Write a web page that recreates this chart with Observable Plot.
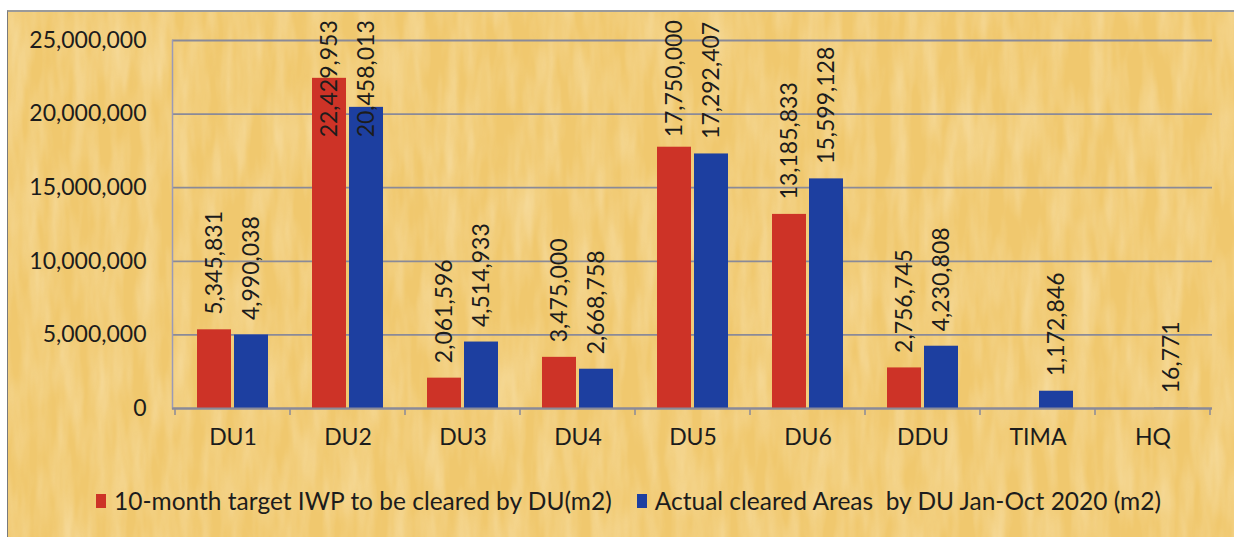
<!DOCTYPE html>
<html>
<head>
<meta charset="utf-8">
<script src="https://cdn.jsdelivr.net/npm/d3@7"></script>
<script src="https://cdn.jsdelivr.net/npm/@observablehq/plot@0.6"></script>
<style>
  html, body { margin: 0; padding: 0; background: #ffffff; }
  body { width: 1234px; height: 537px; overflow: hidden; position: relative; font-family: Lato, "Open Sans", sans-serif; }
  #wrap {
    position: absolute; left: 7px; top: 10px; width: 1227px; height: 527px;
    box-sizing: border-box;
    background: #F0C86E;
    border-top: 2px solid #9a9a9a;
    border-left: 1px solid #7a7a7a;
    overflow: hidden;
  }
  #tex { position: absolute; left: 0; top: 0; }
  #chart { position: absolute; left: 0; top: 0; }
  #chart svg { display: block; background: transparent; }
  #legend {
    position: absolute; left: 88px; top: 474px;
    display: flex; align-items: center;
    font-size: 24.5px; color: #1c1c1c; white-space: pre;
  }
  .sw { display: inline-block; width: 10px; height: 14px; margin-right: 8px; }
  .item { display: flex; align-items: center; margin-right: 25px; }
</style>
</head>
<body>
<div id="wrap">
  <svg id="tex" width="1227" height="527">
    <filter id="paper" x="0" y="0" width="100%" height="100%">
      <feTurbulence type="fractalNoise" baseFrequency="0.06 0.012" numOctaves="3" seed="4" result="n"/>
      <feColorMatrix type="matrix" values="0 0 0 0 1  0 0 0 0 0.93  0 0 0 0 0.75  0 0 0 -1.1 0.75"/>
    </filter>
    <rect width="1227" height="527" filter="url(#paper)" opacity="0.55"></rect>
  </svg>
  <div id="chart"></div>
  <div id="legend"></div>
</div>
<script>
// ---- data ----
const categories = ["DU1", "DU2", "DU3", "DU4", "DU5", "DU6", "DDU", "TIMA", "HQ"];
const targetValues = [5345831, 22429953, 2061596, 3475000, 17750000, 13185833, 2756745, null, null];
const actualValues = [4990038, 20458013, 4514933, 2668758, 17292407, 15599128, 4230808, 1172846, 16771];
const seriesNames = ["10-month target IWP to be cleared by DU(m2)", "Actual cleared Areas  by DU Jan-Oct 2020 (m2)"];
const yTicks = [0, 5000000, 10000000, 15000000, 20000000, 25000000];

const colors = ["#CD3327", "#1D3FA0"];
const fmt = d3.format(",");

const rows = [];
categories.forEach((c, i) => {
  if (targetValues[i] != null) rows.push({cat: c, series: seriesNames[0], s: 0, value: targetValues[i]});
  if (actualValues[i] != null) rows.push({cat: c, series: seriesNames[1], s: 1, value: actualValues[i]});
});
const red = rows.filter(d => d.s === 0);
const blue = rows.filter(d => d.s === 1);

const barW = 34, gapW = 3;
const labelCap = 17400000; // labels are kept inside the chart area, as in the original

function betweenTicks(index, scales, values, dimensions) {
  const x = scales.x;
  const step = x.step ? x.step() : (dimensions.width - dimensions.marginLeft - dimensions.marginRight) / categories.length;
  const bw = x.bandwidth ? x.bandwidth() : step * 0.614;
  const off = (step - bw) / 2;
  const y0 = scales.y(0);
  const g = d3.create("svg:g");
  const xs = categories.map(c => x(c) - off);
  xs.push(x(categories[categories.length - 1]) + bw + off);
  xs.forEach(px => {
    g.append("line").attr("x1", px).attr("x2", px).attr("y1", y0).attr("y2", y0 + 7)
      .attr("stroke", "#8a8a98").attr("stroke-width", 1.5);
  });
  return g.node();
}

const chart = Plot.plot({
  width: 1226,
  height: 455,
  marginLeft: 164,
  marginRight: 22,
  marginTop: 28,
  marginBottom: 59,
  style: {fontFamily: "Lato, 'Open Sans', sans-serif", fontSize: "23px", color: "#1c1c1c", background: "transparent"},
  x: {type: "band", domain: categories, paddingInner: 0.386, paddingOuter: 0.193, label: null},
  y: {domain: [0, 25000000], label: null},
  marks: [
    Plot.gridY(yTicks, {stroke: "#8a8a98", strokeOpacity: 1, strokeWidth: 1.8}),
    Plot.frame({anchor: "left", stroke: "#9a9ab8", strokeWidth: 1.5}),
    Plot.barY(red, {x: "cat", y: "value", fill: colors[0], insetRight: barW + gapW}),
    Plot.barY(blue, {x: "cat", y: "value", fill: colors[1], insetLeft: barW + gapW}),
    Plot.ruleY([0], {stroke: "#8a8a98", strokeWidth: 1.8}),
    betweenTicks,
    Plot.text(red, {x: "cat", y: d => Math.min(d.value, labelCap), text: d => fmt(d.value), rotate: -90,
      textAnchor: "start", lineAnchor: "middle", dx: -(barW + gapW) / 2, dy: -15, fill: "#1c1c1c", fontSize: 23}),
    Plot.text(blue, {x: "cat", y: d => Math.min(d.value, labelCap), text: d => fmt(d.value), rotate: -90,
      textAnchor: "start", lineAnchor: "middle", dx: (barW + gapW) / 2, dy: -15, fill: "#1c1c1c", fontSize: 23}),
    Plot.axisY(yTicks, {tickSize: 0, tickPadding: 26, tickFormat: d => fmt(d), fontSize: 23, fill: "#1c1c1c"}),
    Plot.axisX({tickSize: 0, tickPadding: 20, fontSize: 23, fill: "#1c1c1c"})
  ]
});
document.getElementById("chart").appendChild(chart);

const legend = document.getElementById("legend");
seriesNames.forEach((name, i) => {
  const item = document.createElement("div");
  item.className = "item";
  const sw = document.createElement("span");
  sw.className = "sw";
  sw.style.background = colors[i];
  const t = document.createElement("span");
  t.textContent = name;
  item.appendChild(sw);
  item.appendChild(t);
  legend.appendChild(item);
});
</script>
</body>
</html>
